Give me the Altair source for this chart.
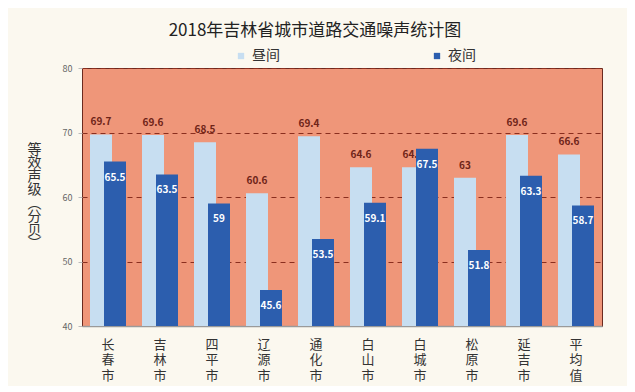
import altair as alt
import pandas as pd

cities = ["长春市", "吉林市", "四平市", "辽源市", "通化市", "白山市", "白城市", "松原市", "延吉市", "平均值"]
day = [69.7, 69.6, 68.5, 60.6, 69.4, 64.6, 64.6, 63, 69.6, 66.6]
night = [65.5, 63.5, 59, 45.6, 53.5, 59.1, 67.5, 51.8, 63.3, 58.7]
series = ["昼间", "夜间"]
colors = ["#C7DEF1", "#2C5EAE"]

rows = []
for c, d, n in zip(cities, day, night):
    rows.append({"city": c, "series": series[0], "value": d})
    rows.append({"city": c, "series": series[1], "value": n})
df = pd.DataFrame(rows)

FONT = "Noto Sans CJK SC"

x_enc = alt.X("city:N", sort=cities, title=None,
              scale=alt.Scale(paddingInner=0, paddingOuter=0),
              axis=alt.Axis(labelAngle=0, labelExpr="split(datum.label, '')",
                            labelFont=FONT, labelFontSize=13, labelColor="#333333",
                            labelLineHeight=15.5, labelPadding=12, ticks=False,
                            domainColor="#9a9a9a", domainWidth=1.5, labelBaseline="top"))
y_enc = alt.Y("value:Q", scale=alt.Scale(domain=[40, 80], nice=False, zero=False),
              title=list("等效声级︵分贝︶"),
              axis=alt.Axis(values=[40, 50, 60, 70, 80], grid=True, gridDash=[5, 4],
                            gridColor="#8A2E1E", gridWidth=1.2, domain=False,
                            tickColor="#bbbbbb", tickSize=4, labelFontSize=9,
                            labelColor="#666666", labelFont=FONT, labelPadding=6,
                            titleAngle=0, titleFont=FONT, titleFontSize=14,
                            titleFontWeight="normal", titleColor="#333333",
                            titleLineHeight=13.5, titleX=-48, titleY=74,
                            titleBaseline="top"))
color_enc = alt.Color("series:N", scale=alt.Scale(domain=series, range=colors),
                      legend=alt.Legend(title=None, orient="none", direction="horizontal",
                                        legendX=152, legendY=-19, columnPadding=150,
                                        symbolType="square", symbolSize=40,
                                        labelFont=FONT, labelFontSize=14, labelColor="#333333",
                                        symbolStrokeWidth=0))

base = alt.Chart(df)

day_bars = base.transform_filter(alt.datum.series == series[0]).mark_bar(
    width=22, xOffset=-7, clip=True).encode(x=x_enc, y=y_enc, color=color_enc)
day_text = base.transform_filter(alt.datum.series == series[0]).mark_text(
    xOffset=-7, dy=-12, fontSize=10, fontWeight="bold", color="#6E2418", font=FONT).encode(
    x=alt.X("city:N", sort=cities), y="value:Q", text="value:Q")
night_bars = base.transform_filter(alt.datum.series == series[1]).mark_bar(
    width=22, xOffset=7, clip=True).encode(x=alt.X("city:N", sort=cities), y="value:Q", color=color_enc)
night_text = base.transform_filter(alt.datum.series == series[1]).mark_text(
    xOffset=7, dy=16, fontSize=10, fontWeight="bold", color="white", font=FONT).encode(
    x=alt.X("city:N", sort=cities), y="value:Q", text="value:Q")

chart = alt.layer(day_bars, day_text, night_bars, night_text).properties(
    width=520, height=258,
    title=alt.TitleParams("2018年吉林省城市道路交通噪声统计图", font=FONT, fontSize=17,
                          fontWeight="normal", color="#222222", offset=9, dx=-27,
                          anchor="middle"),
    autosize=alt.AutoSizeParams(type="none"),
    padding={"left": 74, "top": 60, "right": 25, "bottom": 60},
    background="#FBF8EF",
).configure_view(fill="#EF9679", stroke="#6B2A1F", strokeWidth=1)

chart.save("out.html", embed_options={"renderer": "svg", "actions": False})
